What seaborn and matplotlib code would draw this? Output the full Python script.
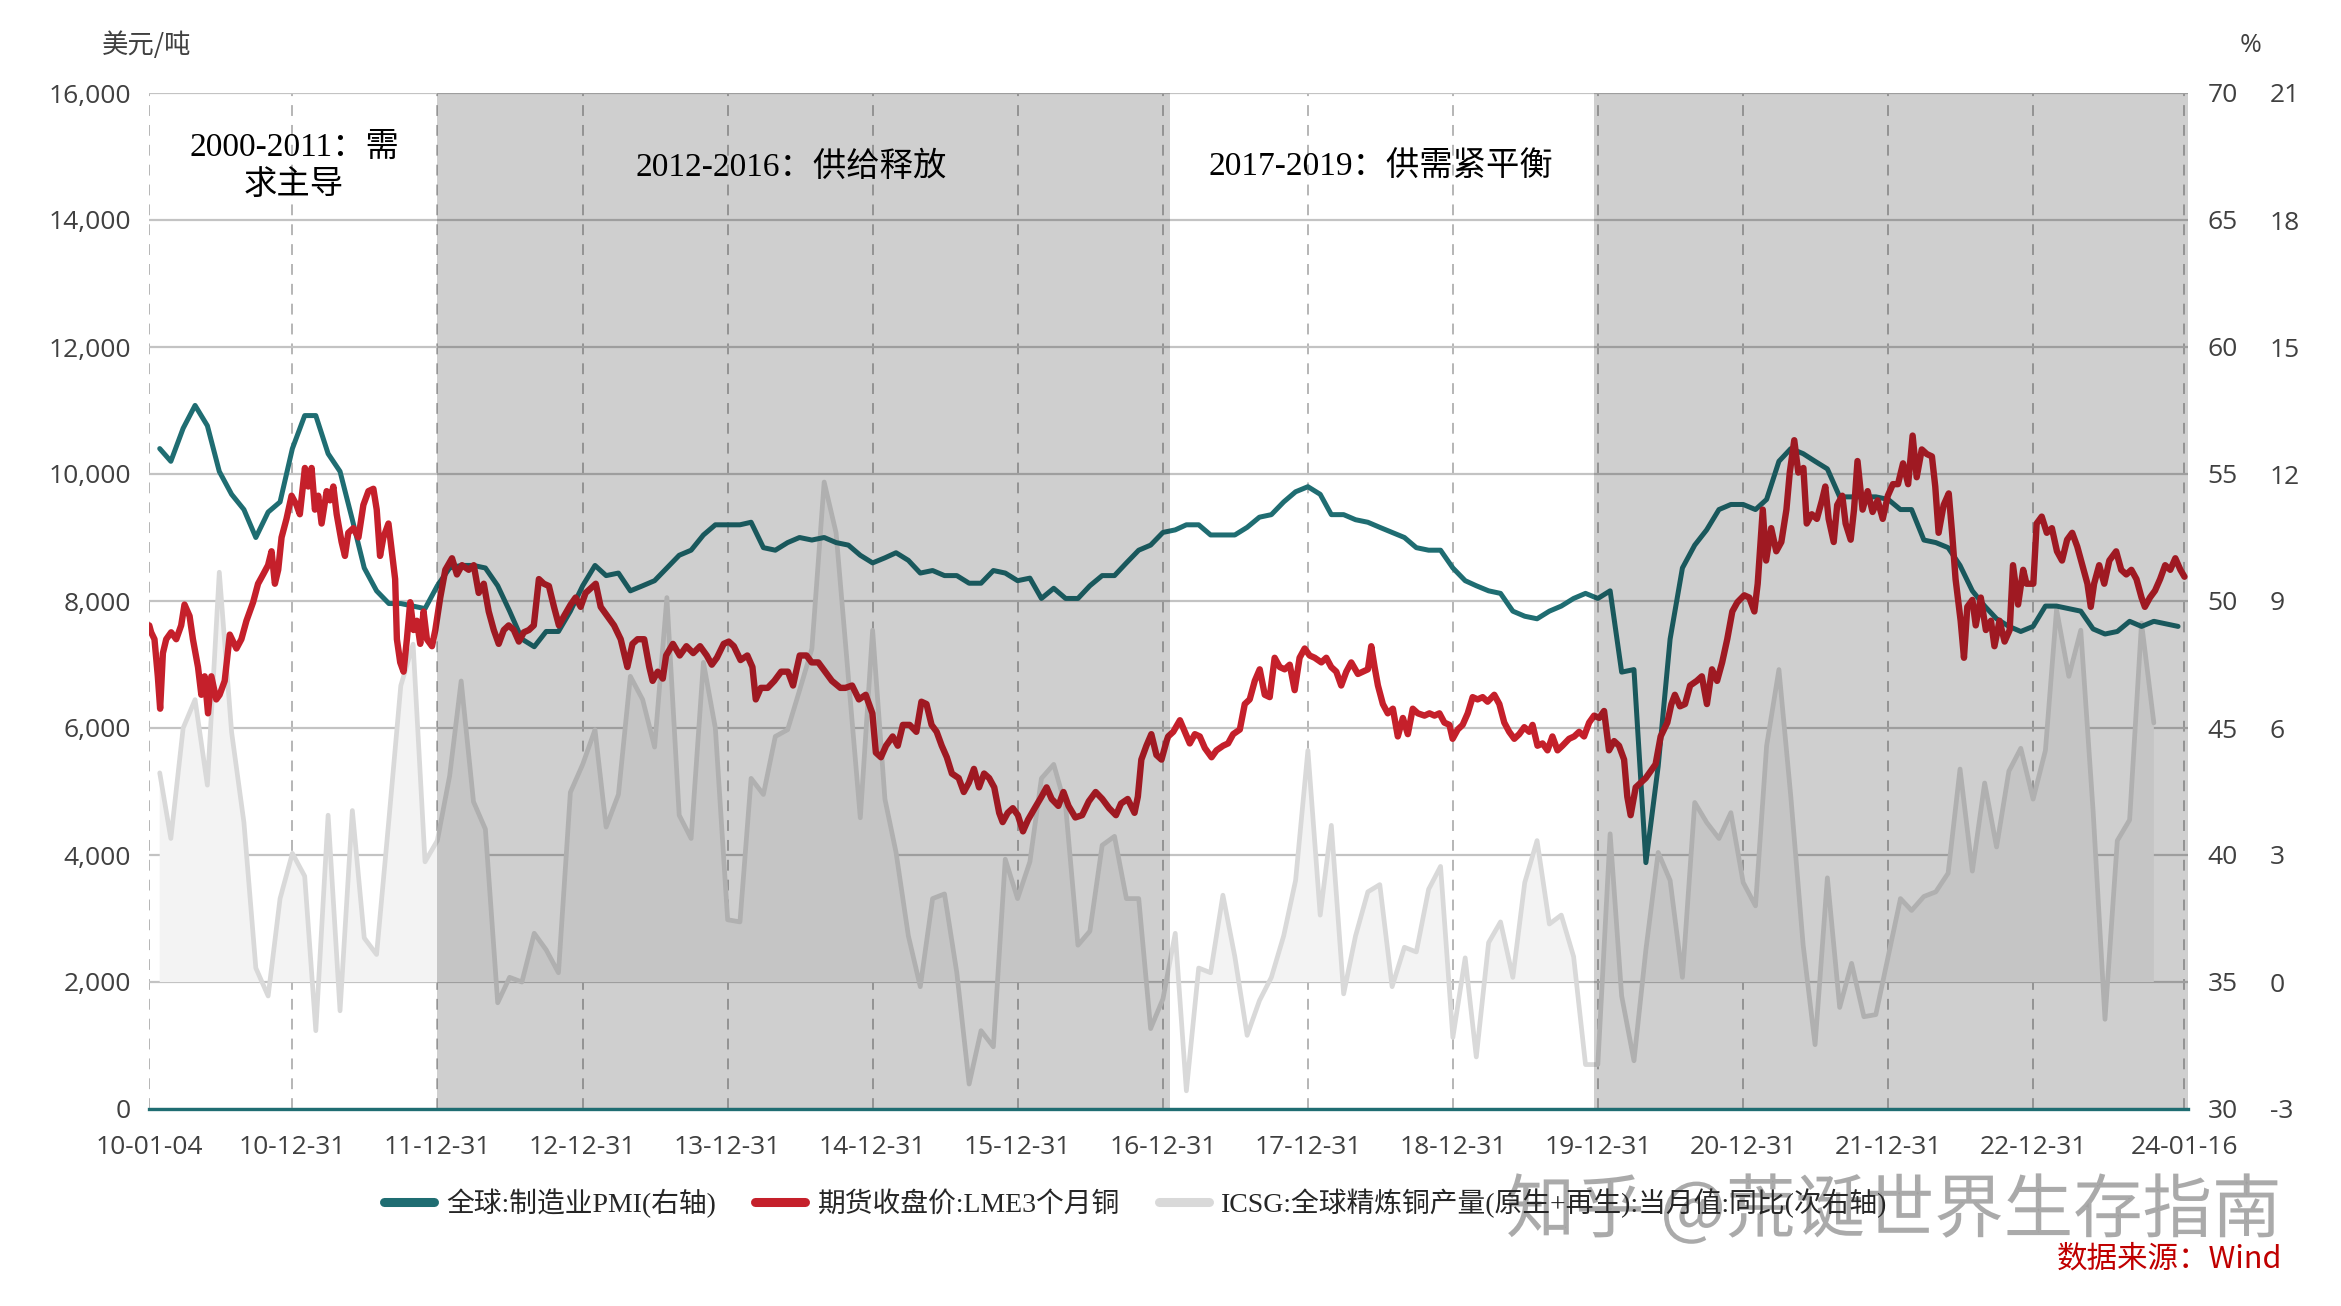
import pandas as pd
import matplotlib
matplotlib.use('Agg')
import matplotlib.pyplot as plt
import matplotlib.dates as mdates
from matplotlib.lines import Line2D
from matplotlib.ticker import FuncFormatter
import matplotlib.patheffects as pe
import seaborn as sns

# %% data
# global manufacturing PMI, monthly from 2010-01 (right axis 30-70)
pmi = [56.0, 55.5, 56.8, 57.7, 56.9, 55.1, 54.2, 53.6, 52.5, 53.5, 53.9, 56.0,
       57.3, 57.3, 55.8, 55.1, 53.2, 51.3, 50.4, 49.9, 49.9, 49.8, 49.7, 50.6,
       51.3, 51.4, 51.4, 51.3, 50.6, 49.6, 48.5, 48.2, 48.8, 48.8, 49.6, 50.6,
       51.4, 51.0, 51.1, 50.4, 50.6, 50.8, 51.3, 51.8, 52.0, 52.6, 53.0, 53.0,
       53.0, 53.1, 52.1, 52.0, 52.3, 52.5, 52.4, 52.5, 52.3, 52.2, 51.8, 51.5,
       51.7, 51.9, 51.6, 51.1, 51.2, 51.0, 51.0, 50.7, 50.7, 51.2, 51.1, 50.8,
       50.9, 50.1, 50.5, 50.1, 50.1, 50.6, 51.0, 51.0, 51.5, 52.0, 52.2, 52.7,
       52.8, 53.0, 53.0, 52.6, 52.6, 52.6, 52.9, 53.3, 53.4, 53.9, 54.3, 54.5,
       54.2, 53.4, 53.4, 53.2, 53.1, 52.9, 52.7, 52.5, 52.1, 52.0, 52.0, 51.3,
       50.8, 50.6, 50.4, 50.3, 49.6, 49.4, 49.3, 49.6, 49.8, 50.1, 50.3, 50.1,
       50.4, 47.2, 47.3, 39.7, 43.5, 48.5, 51.3, 52.2, 52.8, 53.6, 53.8, 53.8,
       53.6, 54.0, 55.5, 56.0, 55.8, 55.5, 55.2, 54.1, 54.1, 54.1, 54.1, 54.0,
       53.6, 53.6, 52.4, 52.3, 52.1, 51.4, 50.4, 49.8, 49.3, 49.0, 48.8, 49.0,
       49.8, 49.8, 49.7, 49.6, 48.9, 48.7, 48.8, 49.2, 49.0, 49.2, 49.1, 49.0]

# ICSG global refined copper output yoy %, monthly from 2010-01 (outer right axis -3..21)
icsg = [4.94, 3.39, 6.0, 6.67, 4.65, 9.68, 5.9, 3.77, 0.33, -0.33, 1.97, 3.04,
        2.5, -1.15, 3.94, -0.68, 4.05, 1.04, 0.65, 3.83, 7.0, 7.98, 2.84, 3.34,
        4.87, 7.11, 4.26, 3.61, -0.49, 0.11, 0.0, 1.15, 0.76, 0.22, 4.48, 5.14,
        5.96, 3.66, 4.43, 7.22, 6.67, 5.55, 9.08, 3.94, 3.39, 7.55, 6.0, 1.47,
        1.42, 4.81, 4.43, 5.8, 5.96, 6.89, 7.87, 11.81, 10.61, 7.2, 3.88, 8.31,
        4.32, 3.06, 1.09, -0.11, 1.97, 2.08, 0.22, -2.41, -1.15, -1.53, 2.9, 1.97,
        2.84, 4.81, 5.14, 4.15, 0.87, 1.2, 3.23, 3.44, 1.97, 1.97, -1.1, -0.4,
        1.15, -2.57, 0.33, 0.22, 2.05, 0.6, -1.26, -0.44, 0.11, 1.09, 2.4, 5.47,
        1.58, 3.7, -0.28, 1.09, 2.13, 2.3, -0.11, 0.82, 0.71, 2.19, 2.73, -1.31,
        0.57, -1.77, 0.93, 1.42, 0.11, 2.35, 3.34, 1.37, 1.58, 0.6, -1.95, -1.95,
        3.5, -0.33, -1.86, 0.76, 3.06, 2.4, 0.11, 4.24, 3.77, 3.39, 4.0, 2.35,
        1.8, 5.58, 7.38, 4.37, 0.87, -1.48, 2.46, -0.6, 0.44, -0.82, -0.77, 0.6,
        1.97, 1.69, 2.02, 2.13, 2.57, 5.03, 2.62, 4.7, 3.19, 4.98, 5.52, 4.32,
        5.47, 8.8, 7.22, 8.31, 4.05, -0.88, 3.34, 3.83, 8.48, 6.12]

# LME 3M copper close (USD/t), sampled about twice a month; time as decimal year
cu_t = [2010.010, 2010.023, 2010.046, 2010.069, 2010.085, 2010.104, 2010.127, 2010.161, 2010.196, 2010.230,
        2010.253, 2010.288, 2010.311, 2010.346, 2010.369, 2010.392, 2010.415, 2010.438, 2010.472, 2010.495,
        2010.530, 2010.565, 2010.611, 2010.645, 2010.680, 2010.726, 2010.760, 2010.795, 2010.829, 2010.853,
        2010.876, 2010.899, 2010.922, 2010.956, 2010.991, 2011.025, 2011.048, 2011.083, 2011.106, 2011.129,
        2011.152, 2011.175, 2011.198, 2011.233, 2011.256, 2011.279, 2011.302, 2011.336, 2011.359, 2011.382,
        2011.417, 2011.452, 2011.486, 2011.521, 2011.555, 2011.578, 2011.601, 2011.624, 2011.659, 2011.682,
        2011.705, 2011.717, 2011.740, 2011.763, 2011.786, 2011.809, 2011.832, 2011.855, 2011.878, 2011.901,
        2011.924, 2011.959, 2011.982, 2012.016, 2012.051, 2012.097, 2012.131, 2012.166, 2012.212, 2012.247,
        2012.281, 2012.316, 2012.350, 2012.385, 2012.419, 2012.454, 2012.488, 2012.523, 2012.558, 2012.592,
        2012.627, 2012.661, 2012.696, 2012.730, 2012.765, 2012.800, 2012.834, 2012.869, 2012.915, 2012.949,
        2012.984, 2013.018, 2013.053, 2013.088, 2013.122, 2013.168, 2013.214, 2013.260, 2013.306, 2013.341,
        2013.376, 2013.387, 2013.422, 2013.457, 2013.480, 2013.515, 2013.550, 2013.573, 2013.620, 2013.667,
        2013.713, 2013.760, 2013.807, 2013.853, 2013.888, 2013.923, 2013.970, 2014.005, 2014.040, 2014.086,
        2014.133, 2014.168, 2014.191, 2014.226, 2014.273, 2014.319, 2014.366, 2014.413, 2014.448, 2014.494,
        2014.541, 2014.576, 2014.622, 2014.669, 2014.716, 2014.774, 2014.809, 2014.855, 2014.902, 2014.949,
        2014.995, 2015.019, 2015.054, 2015.089, 2015.135, 2015.170, 2015.205, 2015.252, 2015.298, 2015.333,
        2015.368, 2015.403, 2015.438, 2015.473, 2015.508, 2015.543, 2015.590, 2015.625, 2015.660, 2015.695,
        2015.730, 2015.765, 2015.800, 2015.835, 2015.869, 2015.893, 2015.928, 2015.963, 2015.998, 2016.033,
        2016.068, 2016.114, 2016.161, 2016.196, 2016.231, 2016.277, 2016.312, 2016.347, 2016.394, 2016.441,
        2016.487, 2016.534, 2016.580, 2016.627, 2016.674, 2016.709, 2016.755, 2016.802, 2016.825, 2016.849,
        2016.884, 2016.918, 2016.953, 2016.988, 2017.023, 2017.034, 2017.069, 2017.115, 2017.149, 2017.183,
        2017.218, 2017.252, 2017.287, 2017.333, 2017.367, 2017.413, 2017.447, 2017.482, 2017.528, 2017.562,
        2017.596, 2017.631, 2017.665, 2017.700, 2017.734, 2017.768, 2017.803, 2017.837, 2017.872, 2017.906,
        2017.940, 2017.975, 2018.009, 2018.044, 2018.090, 2018.124, 2018.158, 2018.193, 2018.227, 2018.262,
        2018.296, 2018.342, 2018.376, 2018.411, 2018.434, 2018.457, 2018.480, 2018.514, 2018.548, 2018.583,
        2018.617, 2018.652, 2018.686, 2018.720, 2018.755, 2018.801, 2018.835, 2018.870, 2018.904, 2018.938,
        2018.973, 2018.995, 2019.030, 2019.064, 2019.099, 2019.133, 2019.167, 2019.202, 2019.236, 2019.282,
        2019.317, 2019.351, 2019.385, 2019.420, 2019.454, 2019.489, 2019.523, 2019.546, 2019.580, 2019.615,
        2019.649, 2019.683, 2019.718, 2019.752, 2019.798, 2019.833, 2019.867, 2019.901, 2019.936, 2019.970,
        2020.005, 2020.039, 2020.073, 2020.108, 2020.142, 2020.177, 2020.199, 2020.222, 2020.257, 2020.291,
        2020.326, 2020.360, 2020.394, 2020.429, 2020.475, 2020.503, 2020.527, 2020.562, 2020.597, 2020.632,
        2020.678, 2020.713, 2020.748, 2020.783, 2020.818, 2020.853, 2020.888, 2020.923, 2020.958, 2021.005,
        2021.040, 2021.075, 2021.098, 2021.133, 2021.156, 2021.191, 2021.226, 2021.261, 2021.296, 2021.319,
        2021.350, 2021.378, 2021.413, 2021.436, 2021.471, 2021.506, 2021.541, 2021.564, 2021.587, 2021.622,
        2021.646, 2021.681, 2021.704, 2021.739, 2021.762, 2021.786, 2021.821, 2021.856, 2021.890, 2021.925,
        2021.960, 2021.995, 2022.030, 2022.065, 2022.100, 2022.135, 2022.166, 2022.194, 2022.229, 2022.264,
        2022.299, 2022.322, 2022.345, 2022.380, 2022.415, 2022.438, 2022.462, 2022.497, 2022.520, 2022.543,
        2022.578, 2022.601, 2022.636, 2022.671, 2022.706, 2022.730, 2022.765, 2022.800, 2022.835, 2022.858,
        2022.893, 2022.928, 2022.951, 2022.998, 2023.021, 2023.056, 2023.091, 2023.126, 2023.161, 2023.196,
        2023.231, 2023.266, 2023.301, 2023.336, 2023.371, 2023.394, 2023.417, 2023.452, 2023.487, 2023.522,
        2023.569, 2023.604, 2023.639, 2023.674, 2023.709, 2023.744, 2023.767, 2023.802, 2023.837, 2023.872,
        2023.907, 2023.942, 2023.977, 2024.012, 2024.040]
cu_v = [7616, 7507, 7398, 6814, 6304, 7179, 7398, 7507, 7398, 7616,
        7944, 7762, 7398, 6960, 6523, 6814, 6231, 6814, 6450, 6523,
        6742, 7471, 7252, 7398, 7689, 7981, 8272, 8418, 8564, 8783,
        8272, 8491, 9001, 9293, 9658, 9512, 9366, 10095, 9803, 10095,
        9439, 9658, 9220, 9730, 9585, 9803, 9366, 8929, 8710, 9074,
        9147, 9001, 9512, 9730, 9767, 9439, 8710, 9001, 9220, 8783,
        8345, 7398, 7033, 6887, 7398, 7981, 7543, 7689, 7325, 7835,
        7398, 7288, 7543, 8054, 8491, 8673, 8418, 8564, 8491, 8564,
        8127, 8272, 7835, 7543, 7325, 7543, 7616, 7543, 7361, 7507,
        7543, 7616, 8345, 8272, 8236, 7908, 7616, 7762, 7944, 8054,
        7908, 8127, 8200, 8272, 7908, 7762, 7616, 7398, 6960, 7325,
        7398, 7398, 7398, 6960, 6742, 6887, 6778, 7142, 7325, 7142,
        7288, 7179, 7288, 7142, 6997, 7106, 7325, 7361, 7288, 7070,
        7142, 6960, 6450, 6632, 6632, 6742, 6887, 6887, 6669, 7142,
        7142, 7033, 7033, 6887, 6742, 6632, 6632, 6669, 6450, 6523,
        6231, 5612, 5539, 5721, 5867, 5721, 6049, 6049, 5940, 6414,
        6377, 6049, 5940, 5721, 5539, 5283, 5211, 4992, 5138, 5356,
        5065, 5283, 5211, 5065, 4664, 4518, 4664, 4737, 4627, 4372,
        4555, 4737, 4919, 5065, 4882, 4773, 4992, 4773, 4591, 4627,
        4846, 4992, 4882, 4737, 4627, 4810, 4882, 4664, 4919, 5502,
        5721, 5903, 5575, 5502, 5794, 5867, 5940, 6122, 5940, 5757,
        5903, 5867, 5684, 5539, 5648, 5721, 5757, 5903, 5976, 6377,
        6450, 6742, 6924, 6523, 6486, 7106, 6960, 6924, 6997, 6596,
        7106, 7252, 7142, 7106, 7033, 7106, 6960, 6887, 6669, 6887,
        7033, 6851, 6887, 6924, 7288, 6960, 6669, 6377, 6231, 6304,
        5867, 6158, 5903, 6304, 6231, 6195, 6231, 6195, 6231, 6085,
        6049, 5830, 5976, 6049, 6231, 6486, 6450, 6486, 6414, 6523,
        6377, 6085, 5940, 5830, 5903, 6013, 5940, 6049, 5721, 5757,
        5648, 5867, 5648, 5721, 5830, 5867, 5940, 5867, 6085, 6195,
        6158, 6268, 5648, 5794, 5721, 5502, 4919, 4627, 5065, 5138,
        5211, 5320, 5429, 5867, 6085, 6377, 6523, 6341, 6377, 6669,
        6742, 6814, 6377, 6924, 6742, 7033, 7398, 7835, 7981, 8090,
        8054, 7835, 8272, 9439, 8637, 9147, 8783, 8929, 9439, 10022,
        10532, 10022, 10095, 9220, 9366, 9293, 9585, 9803, 9293, 8929,
        9512, 9658, 9220, 8965, 9439, 10204, 9439, 9730, 9402, 9585,
        9293, 9658, 9840, 9840, 10168, 9840, 10605, 9949, 10387, 10314,
        10277, 9803, 9074, 9512, 9694, 9074, 8345, 7689, 7106, 7908,
        8017, 7616, 8054, 7543, 7689, 7288, 7689, 7361, 7543, 8564,
        7944, 8491, 8272, 8272, 9220, 9329, 9074, 9147, 8783, 8637,
        8965, 9074, 8856, 8564, 8272, 7908, 8272, 8564, 8272, 8637,
        8782, 8491, 8418, 8491, 8345, 8054, 7908, 8054, 8163, 8345,
        8564, 8491, 8673, 8491, 8382]

tick_dates = ['2010-01-04', '2010-12-31', '2011-12-31', '2012-12-31', '2013-12-31', '2014-12-31',
              '2015-12-31', '2016-12-31', '2017-12-31', '2018-12-31', '2019-12-31', '2020-12-31',
              '2021-12-31', '2022-12-31', '2024-01-16']
bands = [('2011-12-31', '2017-01-18'), ('2019-12-22', '2024-01-25')]
phase_labels = ['2000-2011：需\n求主导', '2012-2016：供给释放', '2017-2019：供需紧平衡']
legend_labels = ['全球:制造业PMI(右轴)', '期货收盘价:LME3个月铜',
                 'ICSG:全球精炼铜产量(原生+再生):当月值:同比(次右轴)']

# %% frames
months = lambda n: pd.date_range('2010-01-01', periods=n, freq='MS') + pd.offsets.MonthEnd(1)
dfPMI = pd.DataFrame({'date': months(len(pmi)), 'pmi': pmi})
dfICSG = pd.DataFrame({'date': months(len(icsg)), 'yoy': icsg})
dfCu = pd.DataFrame({'date': pd.Timestamp('2010-01-01') + pd.to_timedelta([(t - 2010) * 365.25 for t in cu_t], unit='D'),
                     'price': cu_v})

TEAL = '#1f6d72'
RED = '#c5202b'
GREY = '#d9d9d9'
TXT = '#404040'

sns.set_theme(style='white')
plt.rcParams['font.family'] = ['Open Sans', 'Noto Sans CJK SC', 'DejaVu Sans']
plt.rcParams['axes.unicode_minus'] = False
CJK = ['Noto Sans CJK SC', 'DejaVu Sans']
SERIF = ['Liberation Serif', 'Noto Sans CJK SC']

W, H = 2341, 1306
L, R, T, B = 149, 2188, 93, 1109
fig = plt.figure(figsize=(W / 100, H / 100), dpi=100)
ax = fig.add_axes([L / W, 1 - B / H, (R - L) / W, (B - T) / H])   # ICSG, bottom layer
axP = ax.twinx()   # PMI
axC = ax.twinx()   # copper, drawn on top

# %% ICSG area + line
ax.fill_between(dfICSG['date'], 0, dfICSG['yoy'], where=dfICSG['yoy'] > 0, interpolate=True,
                color='#f3f3f3', lw=0, zorder=1)
sns.lineplot(data=dfICSG, x='date', y='yoy', ax=ax, color=GREY, lw=3.4, legend=False, zorder=2)
ax.set_ylim(-3, 21)
ax.set_yticks(range(-3, 22, 3))
ax.yaxis.tick_right()
ax.set_xlim(pd.Timestamp('2010-01-04'), pd.Timestamp('2024-01-25'))
ax.set_xticks(pd.to_datetime(tick_dates))
ax.xaxis.set_major_formatter(mdates.DateFormatter('%y-%m-%d'))
ax.grid(axis='y', color='#c3c3c3', lw=1.6)
ax.grid(axis='x', color='#b0b0b0', lw=1.3, ls=(0, (6, 5)))
ax.set_axisbelow(True)
ax.tick_params(axis='y', length=0, pad=59, labelsize=19, labelcolor=TXT)
ax.tick_params(axis='x', length=9, width=1.5, color=TXT, direction='out', pad=10, labelsize=19, labelcolor=TXT)
ax.set_xlabel('')
ax.set_ylabel('')

# %% PMI
sns.lineplot(data=dfPMI, x='date', y='pmi', ax=axP, color=TEAL, lw=3.6, legend=False)
axP.set_ylim(30, 70)
axP.set_yticks(range(30, 71, 5))
axP.tick_params(axis='y', length=0, pad=14, labelsize=19, labelcolor=TXT)
axP.set_ylabel('')

# %% copper
sns.lineplot(data=dfCu, x='date', y='price', ax=axC, color=RED, lw=4.6, legend=False,
             sort=False, estimator=None)
axC.set_ylim(0, 16000)
axC.set_yticks(range(0, 16001, 2000))
axC.yaxis.tick_left()
axC.yaxis.set_major_formatter(FuncFormatter(lambda v, p: f'{v:,.0f}'))
axC.tick_params(axis='y', length=0, pad=13, labelsize=19, labelcolor=TXT)
axC.set_ylabel('')
axC.set_xlim(pd.Timestamp('2010-01-04'), pd.Timestamp('2024-01-25'))

for a in (ax, axP, axC):
    for s in a.spines.values():
        s.set_visible(False)
axC.spines['bottom'].set_visible(True)
axC.spines['bottom'].set_color(TEAL)
axC.spines['bottom'].set_linewidth(2.4)

# grey phase bands darken everything under them
for s, e in bands:
    axC.axvspan(pd.Timestamp(s), pd.Timestamp(e), color='black', alpha=0.19, lw=0, zorder=2.4)

# %% texts
fig.text(294 / W, 1 - 167 / H, phase_labels[0], family=SERIF, fontsize=24, ha='center', va='center',
         linespacing=1.3, color='black')
fig.text(791 / W, 1 - 167 / H, phase_labels[1], family=SERIF, fontsize=24, ha='center', va='center', color='black')
fig.text(1381 / W, 1 - 167 / H, phase_labels[2], family=SERIF, fontsize=24, ha='center', va='center', color='black')
fig.text(147 / W, 1 - 45 / H, '美元/吨', family=CJK, fontsize=19, ha='center', va='center', color=TXT)
fig.text(2251 / W, 1 - 45 / H, '%', fontsize=19, ha='center', va='center', color=TXT)

handles = [Line2D([], [], color=c, lw=6.5) for c in (TEAL, RED, GREY)]
fig.legend(handles, legend_labels, loc='center left', bbox_to_anchor=(384 / W, 1 - 1203 / H), ncol=3,
           frameon=False, prop={'family': SERIF, 'size': 20}, handlelength=1.8, handletextpad=0.45,
           columnspacing=1.4, borderpad=0, borderaxespad=0)

# zhihu watermark sits over the legend in the original too
fig.text(2282 / W, 1 - 1212 / H, '知乎 @荒诞世界生存指南', family=CJK, fontsize=50, ha='right', va='center',
         color='#9e9e9e', alpha=0.85, path_effects=[pe.withStroke(linewidth=4, foreground='white')])
fig.text(2282 / W, 1 - 1259 / H, '数据来源：Wind', family=CJK, fontsize=22, ha='right', va='center', color='#c00000')

fig.savefig('out.png', dpi=100)
